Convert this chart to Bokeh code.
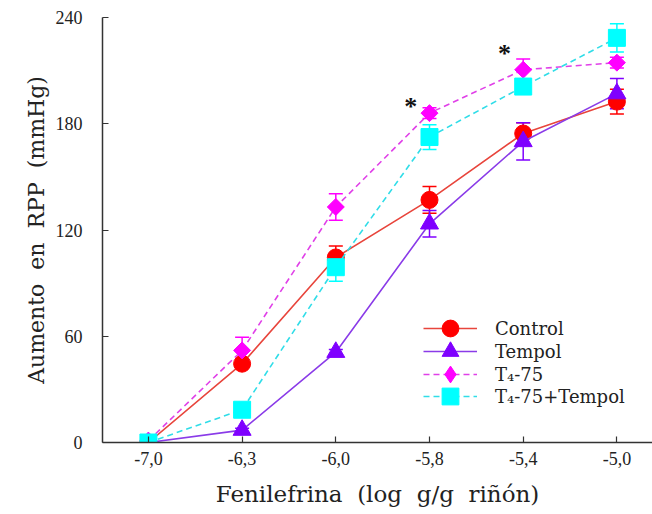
import math
from bokeh.plotting import figure
from bokeh.models import Range1d, Whisker, ColumnDataSource, Legend, LegendItem, FixedTicker, TeeHead
from bokeh.core.properties import value
from bokeh.embed import file_html
from bokeh.resources import INLINE

doses = ["-7,0", "-6,3", "-6,0", "-5,8", "-5,4", "-5,0"]
dose_index = [0, 1, 2, 3, 4, 5]

control = [0, 44.5, 104.5, 137, 174.5, 192.5]
control_err = [0, 2, 6.5, 7.5, 6, 7]
tempol = [0, 7, 51, 123.5, 170, 197]
tempol_err = [0, 1, 1.5, 7.5, 10.5, 8.5]
t4_75 = [1, 52, 133, 186, 210.5, 214.5]
t4_75_err = [0.5, 7.5, 7.5, 3, 6, 3]
t4_75_tempol = [0, 18.5, 99, 172.5, 201, 228.5]
t4_75_tempol_err = [0, 2, 8, 7, 3, 8]

sig_index = [3, 4]
sig_y = [191, 221]

y_ticks = [0, 60, 120, 180, 240]

TICK_FONT = "Liberation Serif"
TEXT_FONT = "DejaVu Serif"
NB = "\u00a0"

p = figure(width=652, height=514, output_backend="svg", toolbar_location=None,
           x_range=Range1d(-0.49, 5.38), y_range=Range1d(0, 240),
           min_border_left=102, min_border_right=0, min_border_top=17, min_border_bottom=72)
p.outline_line_color = None
p.xgrid.visible = False
p.ygrid.visible = False
p.background_fill_color = "white"
p.border_fill_color = "white"

# name, values, errors, marker colour, line colour, dash, marker, size, angle, legend marker
series = [
    ("Control", control, control_err, "#FF0000", "#E8453C", "solid", "circle", 17, 0.0, "circle"),
    ("Tempol", tempol, tempol_err, "#7F00FF", "#8A3BE8", "solid", "triangle", 18, 0.0, "triangle"),
    ("T\u2084-75", t4_75, t4_75_err, "#FF00FF", "#E040E8", "6 4", "square", 12, math.pi / 4, "diamond"),
    ("T\u2084-75+Tempol", t4_75_tempol, t4_75_tempol_err, "#00FFFF", "#30DDE8", "6 4", "square", 17, 0.0, "square"),
]

# legend row bottoms (screen px above the frame bottom)
legend_rows = [93, 70, 47, 25]

for (name, vals, errs, mcol, lcol, dash, marker, size, ang, lmarker), row_y in zip(series, legend_rows):
    src = ColumnDataSource(dict(
        x=dose_index, y=vals,
        lo=[v - e for v, e in zip(vals, errs)],
        hi=[v + e for v, e in zip(vals, errs)],
    ))
    w = Whisker(base="x", lower="lo", upper="hi", source=src,
                line_color=mcol, line_width=1.5,
                lower_head=TeeHead(size=14, line_color=mcol, line_width=1.5),
                upper_head=TeeHead(size=14, line_color=mcol, line_width=1.5))
    p.add_layout(w)
    lr = p.line("x", "y", source=src, line_color=lcol, line_width=1.6, line_dash=dash)
    sr = p.scatter("x", "y", source=src, marker=marker, size=size, angle=ang,
                   fill_color=mcol, line_color=mcol)
    if lmarker != marker:
        # legend-only marker: a single undefined point, nothing drawn in the plot
        sr = p.scatter(x=[float("nan")], y=[float("nan")], marker=lmarker, size=size,
                       fill_color=mcol, line_color=mcol)
    lg = Legend(items=[LegendItem(label=name, renderers=[lr, sr])], location=(321, row_y),
                glyph_width=54, glyph_height=42, label_height=20,
                label_standoff=18, padding=0, margin=0,
                border_line_color=None, background_fill_alpha=0,
                label_text_font=TEXT_FONT, label_text_font_size="18px",
                label_text_color="#222222")
    p.add_layout(lg)

stars = ColumnDataSource(dict(x=[i - 0.2 for i in sig_index], y=sig_y, t=["*"] * len(sig_index)))
p.text("x", "y", text="t", source=stars, text_font=value(TICK_FONT), text_font_size="26px",
       text_font_style="bold", text_color="#111111", text_align="center", text_baseline="middle",
       y_offset=2)

for ax in (p.xaxis[0], p.yaxis[0]):
    ax.axis_line_color = "#333333"
    ax.axis_line_width = 1.5
    ax.major_tick_line_color = "#333333"
    ax.major_tick_line_width = 1.2
    ax.major_tick_in = 6
    ax.major_tick_out = 0
    ax.minor_tick_line_color = None
    ax.major_label_text_font = TICK_FONT
    ax.major_label_text_font_size = "18px"
    ax.major_label_text_color = "#222222"
    ax.axis_label_text_font = TEXT_FONT
    ax.axis_label_text_font_style = "normal"
    ax.axis_label_text_color = "#222222"

p.xaxis[0].ticker = FixedTicker(ticks=dose_index)
p.xaxis[0].major_label_overrides = {i: d for i, d in zip(dose_index, doses)}
p.xaxis[0].major_label_standoff = 9
p.xaxis[0].axis_label = f"Fenilefrina {NB}(log {NB}g/g {NB}ri\u00f1\u00f3n)"
p.xaxis[0].axis_label_text_font_size = "23px"
p.xaxis[0].axis_label_standoff = 13

p.yaxis[0].ticker = FixedTicker(ticks=y_ticks)
p.yaxis[0].major_label_standoff = 20
p.yaxis[0].axis_label = f"Aumento {NB}en {NB}RPP {NB}(mmHg)"
p.yaxis[0].axis_label_text_font_size = "22px"
p.yaxis[0].axis_label_standoff = 4

open("out.html", "w").write(file_html(p, INLINE))
